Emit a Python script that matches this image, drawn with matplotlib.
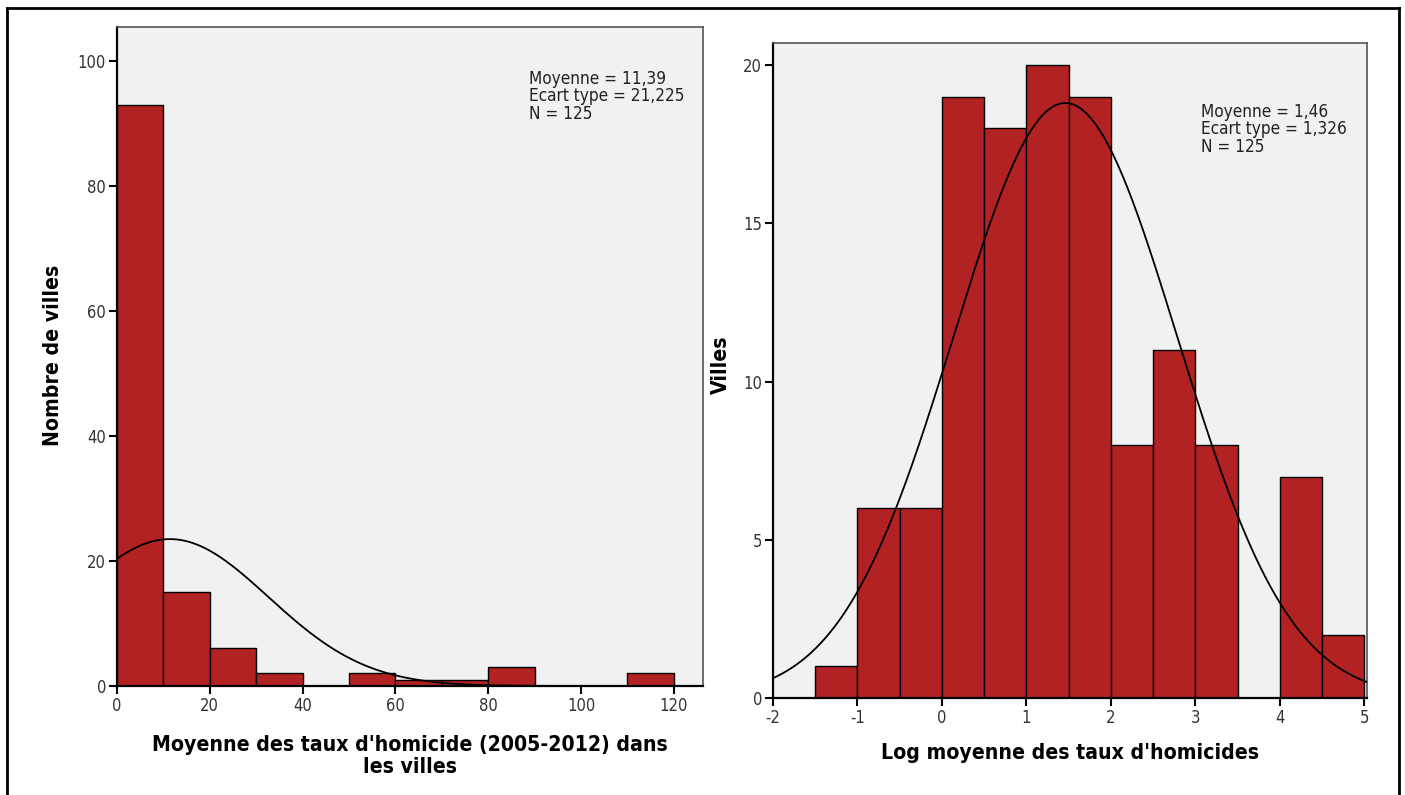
import numpy as np
import matplotlib
matplotlib.use("Agg")
import matplotlib.pyplot as plt
from matplotlib.lines import Line2D
from matplotlib import font_manager as fm

# Left histogram data
left_edges = [0, 10, 20, 30, 40, 50, 60, 70, 80, 90, 100, 110]
left_counts = [93, 15, 6, 2, 0, 2, 1, 1, 3, 0, 0, 2]
left_width = 10
left_mean, left_sd, left_n = 11.39, 21.225, 125
left_xticks = [0, 20, 40, 60, 80, 100, 120]
left_yticks = [0, 20, 40, 60, 80, 100]

# Right histogram data
right_edges = [-1.5, -1.0, -0.5, 0.0, 0.5, 1.0, 1.5, 2.0, 2.5, 3.0, 3.5, 4.0, 4.5]
right_counts = [1, 6, 6, 19, 18, 20, 19, 8, 11, 8, 0, 7, 2]
right_width = 0.5
right_mean, right_sd, right_n = 1.46, 1.326, 125
right_xticks = [-2, -1, 0, 1, 2, 3, 4, 5]
right_yticks = [0, 5, 10, 15, 20]

BAR = "#B22222"
BG = "#F1F1F1"

names = {f.name for f in fm.fontManager.ttflist}
cond = [f for f in fm.fontManager.ttflist
        if f.name == "DejaVu Sans" and str(f.stretch) in ("condensed", "semi-condensed")]
if "Liberation Sans Narrow" in names:
    FAM, STRETCH, SCALE = "Liberation Sans Narrow", "normal", 1.0
elif cond:
    FAM, STRETCH, SCALE = "DejaVu Sans", "condensed", 0.95
else:
    FAM, STRETCH, SCALE = "DejaVu Sans", "normal", 0.8
plt.rcParams['font.family'] = [FAM, "DejaVu Sans"]
plt.rcParams['font.stretch'] = STRETCH
plt.rcParams['axes.unicode_minus'] = False

fig = plt.figure(figsize=(14.05, 7.95), dpi=100)

axL = fig.add_axes([117/1405, 1-686/795, (703-117)/1405, (686-27)/795])
axR = fig.add_axes([773/1405, 1-698/795, (1367-773)/1405, (698-43)/795])

LABEL_FS = 16.0 * SCALE


def style(ax):
    ax.set_facecolor(BG)
    for s in ["left", "bottom"]:
        ax.spines[s].set_color("black")
        ax.spines[s].set_linewidth(1.6)
    for s in ["top", "right"]:
        ax.spines[s].set_color("#555555")
        ax.spines[s].set_linewidth(1.2)
    ax.tick_params(direction="out", length=6, width=1.5, labelsize=12.5 * SCALE,
                   labelcolor="#333333", color="black", pad=2)


def draw(ax, edges, counts, width, mean, sd, n, xlim, ylim, xticks, yticks,
         xlabel, ylabel, textpos, ylc, xlc):
    style(ax)
    ax.bar(edges, counts, width=width, align="edge", color=BAR,
           edgecolor="black", linewidth=1.0, zorder=2)
    xs = np.linspace(xlim[0], xlim[1], 500)
    ys = n * width / (sd * np.sqrt(2 * np.pi)) * np.exp(-0.5 * ((xs - mean) / sd) ** 2)
    ax.plot(xs, ys, color="black", linewidth=1.3, zorder=3)
    ax.set_xlim(*xlim)
    ax.set_ylim(*ylim)
    ax.set_xticks(xticks)
    ax.set_yticks(yticks)
    ax.set_xlabel(xlabel, fontsize=LABEL_FS, fontweight="bold",
                  linespacing=1.15)
    ax.set_ylabel(ylabel, fontsize=LABEL_FS, fontweight="bold")
    ax.yaxis.set_label_coords(*ylc)
    ax.xaxis.set_label_coords(*xlc)
    mean_s = f"{mean:.2f}".replace(".", ",")
    sd_s = f"{sd:.3f}".replace(".", ",")
    ax.text(textpos[0], textpos[1],
            f"Moyenne = {mean_s}\nEcart type = {sd_s}\nN = {n}",
            transform=ax.transAxes, fontsize=13 * SCALE, va="top", ha="left",
            color="#222222", linespacing=0.95)


draw(axL, left_edges, left_counts, left_width, left_mean, left_sd, left_n,
     (0, 126.3), (0, 105.4), left_xticks, left_yticks,
     "Moyenne des taux d'homicide (2005-2012) dans\nles villes",
     "Nombre de villes", ((529 - 117) / 586, 1 - (70 - 27) / 659),
     ((63 - 117) / 586, (686 - 355) / 659), (0.5, (686 - 735) / 659))

draw(axR, right_edges, right_counts, right_width, right_mean, right_sd, right_n,
     (-2, 5.03), (0, 20.7), right_xticks, right_yticks,
     "Log moyenne des taux d'homicides", "Villes",
     ((1201 - 773) / 594, 1 - (103 - 43) / 655),
     ((731 - 773) / 594, (698 - 365) / 655), (0.5, (698 - 743) / 655))

# outer frame
fig.add_artist(Line2D([7/1405, 7/1405], [0, 1 - 8/795], transform=fig.transFigure,
                      color="black", linewidth=2))
fig.add_artist(Line2D([7/1405, 1399/1405], [1 - 8/795, 1 - 8/795],
                      transform=fig.transFigure, color="black", linewidth=2))
fig.add_artist(Line2D([1399/1405, 1399/1405], [0, 1 - 8/795],
                      transform=fig.transFigure, color="black", linewidth=2))

fig.savefig("out.png", dpi=100)
